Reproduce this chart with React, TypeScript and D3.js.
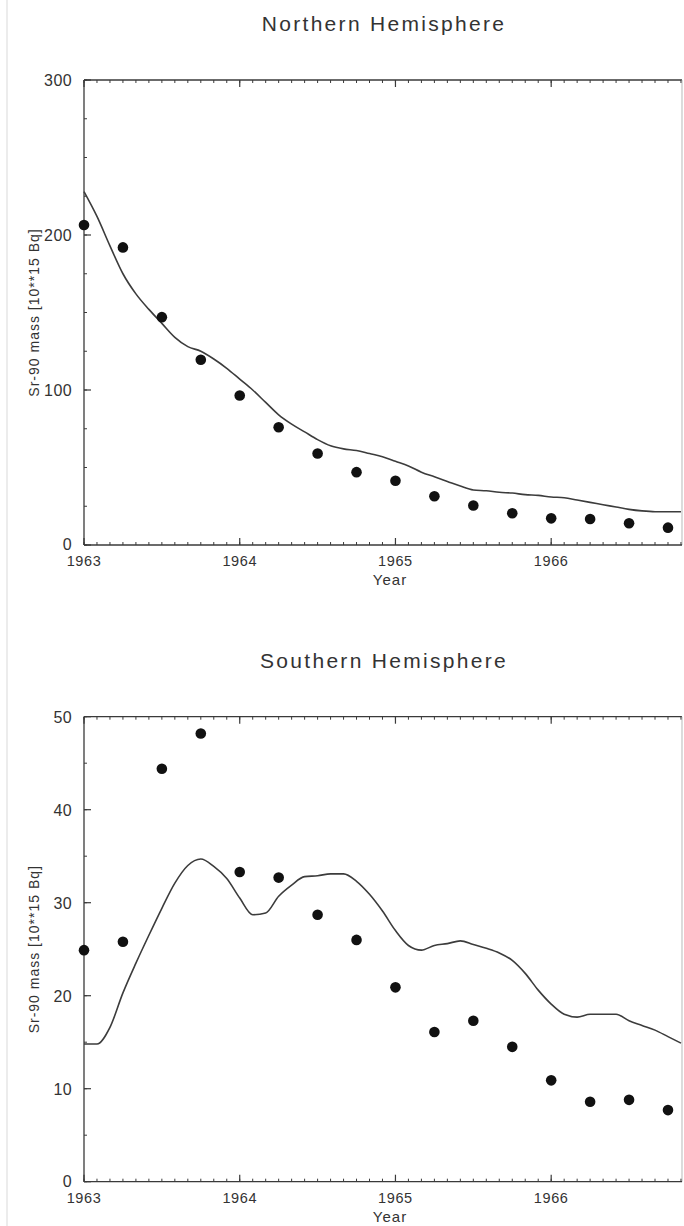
import React from "react";
import * as d3 from "d3";

// ---------- data ----------
const yearTicks = [1963, 1964, 1965, 1966];
const obsYears = [
  1963.0, 1963.25, 1963.5, 1963.75, 1964.0, 1964.25, 1964.5, 1964.75,
  1965.0, 1965.25, 1965.5, 1965.75, 1966.0, 1966.25, 1966.5, 1966.75,
];
const northObs = [206.5, 192, 147, 119.5, 96.5, 76, 59, 47, 41.5, 31.5, 25.5, 20.5, 17.2, 16.8, 14, 11.2];
const southObs = [24.9, 25.8, 44.4, 48.2, 33.3, 32.7, 28.7, 26.0, 20.9, 16.1, 17.3, 14.5, 10.9, 8.6, 8.8, 7.7];

// model (monthly, starting Jan 1963)
const northModel = [
  228, 212, 193, 175, 162, 152, 143, 134, 128, 125, 120, 114,
  107, 100, 92, 84, 78, 73, 68, 64, 62, 61, 59, 57,
  54, 51, 47, 44, 41, 38, 35.5, 35, 34, 33.5, 32.5, 32,
  31, 30.5, 29, 27.5, 26, 24.5, 23, 22, 21.5, 21.5, 21.5,
];
const southModel = [
  14.8, 14.8, 16.6, 20.3, 23.5, 26.5, 29.4, 32.1, 34.0, 34.7, 33.9, 32.6,
  30.5, 28.7, 28.9, 30.7, 31.9, 32.8, 32.9, 33.1, 33.1, 32.3, 30.9, 29.1,
  27.0, 25.4, 24.9, 25.4, 25.6, 25.9, 25.5, 25.1, 24.6, 23.8, 22.4, 20.6,
  19.1, 18.0, 17.7, 18.0, 18.0, 18.0, 17.3, 16.8, 16.3, 15.6, 14.9,
];
const northYTicks = [0, 100, 200, 300];
const southYTicks = [0, 10, 20, 30, 40, 50];

const FONT = "'Liberation Sans', Arial, Helvetica, sans-serif";

type PanelProps = {
  title: string;
  offsetY: number;
  obs: number[];
  model: number[];
  yTicks: number[];
  yMax: number;
  yMinorStep: number;
};

function Panel({ title, offsetY, obs, model, yTicks, yMax, yMinorStep }: PanelProps) {
  const left = 84;
  const right = 682;
  const top = offsetY + 80;
  const bottom = offsetY + 545;
  const x = d3.scaleLinear().domain([1963, 1966.84]).range([left, right]);
  const y = d3.scaleLinear().domain([0, yMax]).range([bottom, top]);

  const modelPts = model.map((v, i) => [1963 + i / 12, v] as [number, number]);
  const line = d3
    .line<[number, number]>()
    .x((d) => x(d[0]))
    .y((d) => y(d[1]))
    .curve(d3.curveMonotoneX);

  const monthTicks = d3.range(0, 47).map((m) => 1963 + m / 12);
  const yMinor = d3.range(0, yMax + 0.001, yMinorStep);

  const axisColor = "#3a3a3a";
  return (
    <g>
      <text
        x={384}
        y={offsetY + 31}
        textAnchor="middle"
        fontFamily={FONT}
        fontSize={21}
        letterSpacing={2.3}
        fill="#333"
      >
        {title}
      </text>
      {/* frame */}
      <line x1={left} x2={right} y1={top} y2={top} stroke={axisColor} strokeWidth={1.3} />
      <line x1={right} x2={right} y1={top} y2={bottom} stroke="#c4c4c4" strokeWidth={1.2} />
      <line x1={left} x2={left} y1={top} y2={bottom} stroke={axisColor} strokeWidth={1.3} />
      <line x1={left} x2={right} y1={bottom} y2={bottom} stroke={axisColor} strokeWidth={1.3} />
      {/* x minor ticks */}
      {monthTicks.map((t, i) => (
        <g key={"mx" + i}>
          <line x1={x(t)} x2={x(t)} y1={bottom} y2={bottom - 3} stroke={axisColor} strokeWidth={1} />
          <line x1={x(t)} x2={x(t)} y1={top} y2={top + 3} stroke={axisColor} strokeWidth={1} />
        </g>
      ))}
      {/* x major ticks + labels */}
      {yearTicks.map((t) => (
        <g key={"x" + t}>
          <line x1={x(t)} x2={x(t)} y1={bottom} y2={bottom - 7} stroke={axisColor} strokeWidth={1.2} />
          <line x1={x(t)} x2={x(t)} y1={top} y2={top + 7} stroke={axisColor} strokeWidth={1.2} />
          <text
            x={x(t)}
            y={bottom + 21}
            textAnchor="middle"
            fontFamily={FONT}
            fontSize={14.5}
            letterSpacing={0.6}
            fill="#333"
          >
            {t}
          </text>
        </g>
      ))}
      {/* y minor ticks */}
      {yMinor.map((v, i) => (
        <line key={"my" + i} x1={left} x2={left + 3} y1={y(v)} y2={y(v)} stroke={axisColor} strokeWidth={1} />
      ))}
      {/* y major ticks + labels */}
      {yTicks.map((v) => (
        <g key={"y" + v}>
          <line x1={left} x2={left + 7} y1={y(v)} y2={y(v)} stroke={axisColor} strokeWidth={1.2} />
          <text
            x={left - 12}
            y={y(v) + (v === 0 ? 5 : 6)}
            textAnchor="end"
            fontFamily={FONT}
            fontSize={16}
            letterSpacing={0.4}
            fill="#333"
          >
            {v}
          </text>
        </g>
      ))}
      <text
        x={390}
        y={bottom + 40}
        textAnchor="middle"
        fontFamily={FONT}
        fontSize={15}
        letterSpacing={1}
        fill="#333"
      >
        Year
      </text>
      <text
        transform={`translate(39, ${(top + bottom) / 2}) rotate(-90)`}
        textAnchor="middle"
        fontFamily={FONT}
        fontSize={14}
        letterSpacing={1}
        fill="#333"
      >
        Sr-90 mass [10**15 Bq]
      </text>
      {/* model line */}
      <path d={line(modelPts) || ""} fill="none" stroke="#3c3c3c" strokeWidth={1.6} />
      {/* observations */}
      {obs.map((v, i) => (
        <circle key={"o" + i} cx={x(obsYears[i])} cy={y(v)} r={5.3} fill="#111" />
      ))}
    </g>
  );
}

export default function App() {
  return (
    <svg
      width={684}
      height={1226}
      style={{ position: "absolute", left: 0, top: 0, background: "#fff" }}
    >
      <rect x={0} y={0} width={684} height={1226} fill="#fff" />
      <line x1={7} x2={7} y1={0} y2={1226} stroke="#ececec" strokeWidth={2} />
      <Panel
        title="Northern Hemisphere"
        offsetY={0}
        obs={northObs}
        model={northModel}
        yTicks={northYTicks}
        yMax={300}
        yMinorStep={25}
      />
      <Panel
        title="Southern Hemisphere"
        offsetY={636.7}
        obs={southObs}
        model={southModel}
        yTicks={southYTicks}
        yMax={50}
        yMinorStep={5}
      />
    </svg>
  );
}
